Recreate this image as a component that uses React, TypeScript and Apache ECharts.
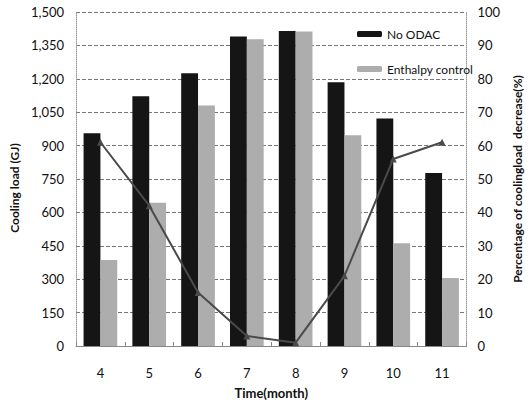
import React, { useEffect, useRef } from "react";
import * as echarts from "echarts";

const months = ["4", "5", "6", "7", "8", "9", "10", "11"];
const noOdac = [955, 1122, 1225, 1390, 1415, 1185, 1022, 777];
const enthalpy = [386, 643, 1080, 1378, 1412, 946, 462, 305];
const pctDecrease = [61, 42, 16, 3, 1, 21, 56, 61];

const FONT = "Lato";

export default function App() {
  const ref = useRef<HTMLDivElement>(null);
  useEffect(() => {
    if (!ref.current) return;
    const chart = echarts.init(ref.current, undefined, { renderer: "svg" });
    chart.setOption({
      animation: false,
      backgroundColor: "#ffffff",
      textStyle: { fontFamily: FONT },
      grid: { left: 69, right: 44, top: 12, bottom: 60 },
      legend: {
        orient: "vertical",
        left: 352,
        top: 23,
        itemWidth: 25,
        itemHeight: 6,
        itemGap: 23,
        data: ["No ODAC", "Enthalpy control"],
        textStyle: { fontFamily: FONT, fontSize: 12, color: "#111" },
      },
      xAxis: {
        type: "category",
        data: months,
        name: "Time(month)",
        nameLocation: "middle",
        nameGap: 40,
        nameTextStyle: { fontFamily: FONT, fontWeight: "bold", fontSize: 13, color: "#111" },
        axisLine: { lineStyle: { color: "#888", width: 1 } },
        axisTick: { show: true, inside: true, length: 4, lineStyle: { color: "#888" } },
        axisLabel: { margin: 20, fontFamily: FONT, fontSize: 13, color: "#111" },
      },
      yAxis: [
        {
          type: "value",
          min: 0,
          max: 1500,
          interval: 150,
          name: "Cooling load (GJ)",
          nameLocation: "middle",
          nameRotate: 90,
          nameGap: 51,
          nameTextStyle: {
            fontFamily: FONT,
            fontWeight: "bold",
            fontSize: 12,
            color: "#111",
            padding: [0, 18, 0, 0],
          },
          axisLine: { show: true, lineStyle: { color: "#999", type: "dotted" } },
          axisTick: { show: false },
          axisLabel: {
            margin: 12,
            fontFamily: FONT,
            fontSize: 13,
            color: "#111",
            formatter: (v: number) => v.toLocaleString("en-US"),
          },
          splitLine: { show: true, lineStyle: { color: "#777", type: "dashed", width: 1 } },
        },
        {
          type: "value",
          min: 0,
          max: 100,
          interval: 10,
          position: "right",
          name: "Percentage of coolingload  decrease(%)",
          nameLocation: "middle",
          nameRotate: 90,
          nameGap: 33,
          nameTextStyle: { fontFamily: FONT, fontWeight: "bold", fontSize: 12, color: "#111" },
          axisLine: { show: true, lineStyle: { color: "#999", type: "dotted" } },
          axisTick: { show: false },
          axisLabel: { margin: 11, fontFamily: FONT, fontSize: 13, color: "#111" },
          splitLine: { show: false },
        },
      ],
      series: [
        {
          name: "No ODAC",
          type: "bar",
          data: noOdac,
          barGap: "0%",
          barCategoryGap: "31%",
          itemStyle: { color: "#151515" },
        },
        {
          name: "Enthalpy control",
          type: "bar",
          data: enthalpy,
          barGap: "0%",
          barCategoryGap: "31%",
          itemStyle: { color: "#adadad" },
        },
        {
          name: "Percentage decrease",
          type: "line",
          yAxisIndex: 1,
          data: pctDecrease,
          symbol: "triangle",
          symbolSize: 7,
          lineStyle: { color: "#4a4a4a", width: 2 },
          itemStyle: { color: "#4a4a4a" },
          z: 5,
        },
      ],
    });
    return () => chart.dispose();
  }, []);
  return <div ref={ref} style={{ width: 531, height: 406, position: "absolute", left: 0, top: 0 }} />;
}
